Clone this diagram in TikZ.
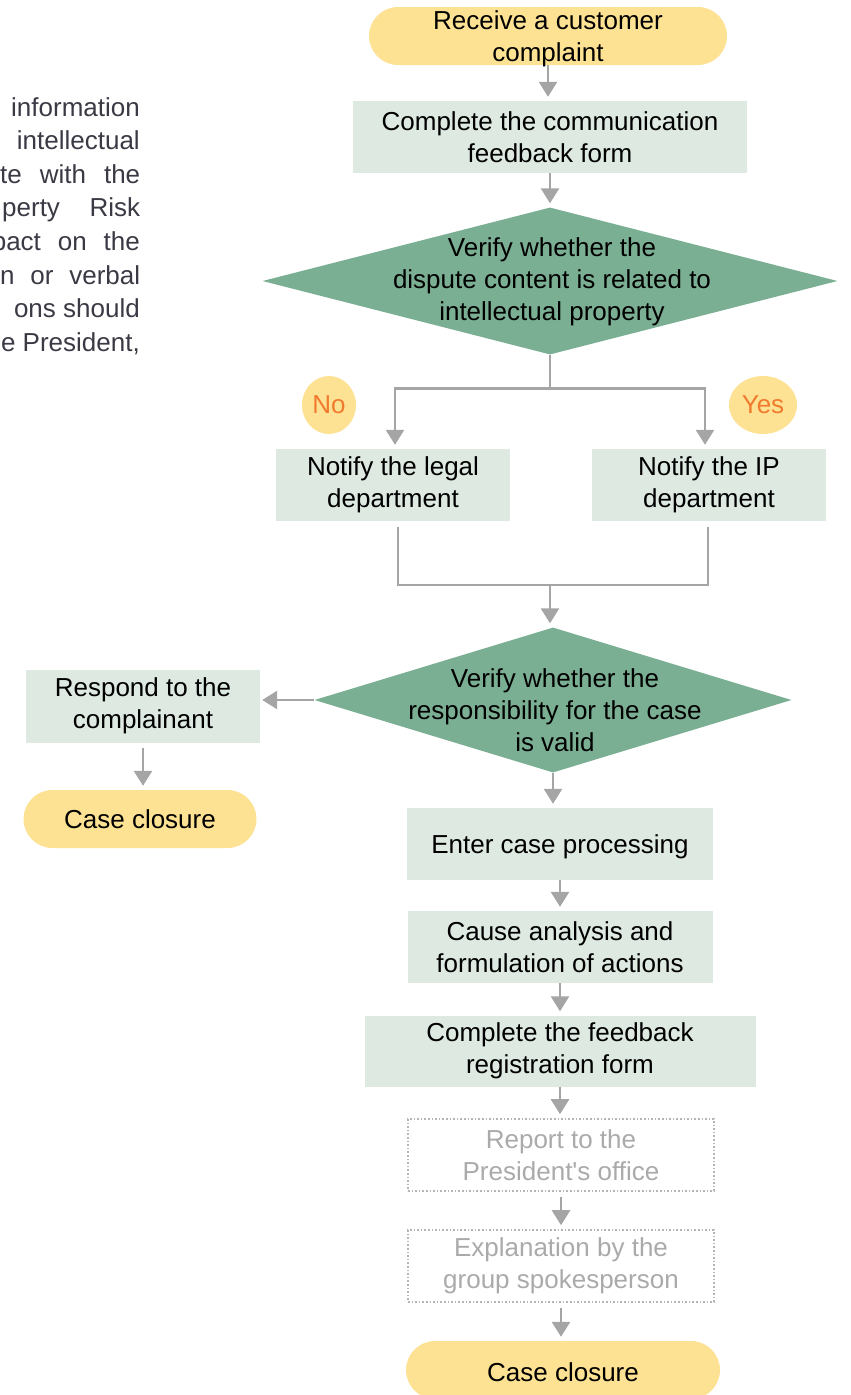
\documentclass[tikz,border=0pt]{standalone}
\usepackage{fontspec}
\setmainfont{Liberation Sans}
\usetikzlibrary{arrows.meta,shapes.geometric}
\definecolor{pillc}{HTML}{FEE293}
\definecolor{boxc}{HTML}{DDE9E1}
\definecolor{diac}{HTML}{7BAF93}
\definecolor{arrc}{HTML}{A5A5A5}
\definecolor{orngc}{HTML}{F07A2E}
\definecolor{ghostc}{HTML}{AAAAAA}
\definecolor{dotc}{HTML}{B5B5B5}
\definecolor{sidec}{HTML}{3A3A45}
\newcommand\straightq{\XeTeXglyph\XeTeXcharglyph"27 }
\begin{document}
\begin{tikzpicture}[x=1pt,y=-1pt,
  font=\fontsize{26}{32}\selectfont,
  pillnode/.style={rectangle, rounded corners=29pt, fill=pillc, minimum height=58pt, inner sep=0pt, align=center},
  boxnode/.style={rectangle, fill=boxc, inner sep=0pt, align=center, minimum height=72pt},
  ghostnode/.style={rectangle, draw=dotc, dotted, line width=1.6pt, text=ghostc, inner sep=0pt, align=center, minimum width=306pt, minimum height=72pt},
  dianode/.style={diamond, fill=diac, inner sep=0pt},
  dtext/.style={align=center, inner sep=0pt},
  flow/.style={draw=arrc, line width=2.6pt, -{Triangle[width=18pt,length=15pt]}, shorten >=4pt},
  link/.style={draw=arrc, line width=2.6pt},
  tagnode/.style={ellipse, fill=pillc, text=orngc, inner sep=0pt, minimum height=58pt},
  sidetext/.style={text=sidec, inner sep=0pt}
]
\useasboundingbox (0,0) rectangle (851,1395);

% side text (cut off at the left edge)
\node[sidetext, anchor=base east] (s1) at (140,116) {information};
\node[sidetext, anchor=base east] (s2) at (140,149) {intellectual};
\node[sidetext, anchor=base west] (s3) at (0,183) {\hbox to 140pt{te\hfill with\hfill the}};
\node[sidetext, anchor=base west] (s4) at (0,216) {\hbox to 140pt{\hskip2pt perty\hfill Risk}};
\node[sidetext, anchor=base east] (s5) at (140,250) {\hbox to 148pt{pact\hfill on\hfill the}};
\node[sidetext, anchor=base west] (s6) at (0,284) {\hbox to 140pt{n\hfill or\hfill verbal}};
\node[sidetext, anchor=base east] (s7) at (140,317) {ons should};
\node[sidetext, anchor=base east] (s8) at (140,351) {the President,};

% main flow
\node[pillnode, minimum width=358pt] (start) at (548,36) {};
\node[dtext] (startt) at (548,39) {Receive a customer\\complaint};
\node[boxnode, minimum width=394pt] (form) at (550,137) {Complete the communication\\feedback form};
\node[dianode, minimum width=575pt, minimum height=147pt] (d1) at (550,281) {};
\node[dtext] (d1t) at (552,282) {Verify whether the\\dispute content is related to\\intellectual property};

\node[boxnode, minimum width=234pt] (legal) at (393,485) {Notify the legal\\department};
\node[boxnode, minimum width=234pt] (ip) at (709,485) {Notify the IP\\department};
\node[tagnode, minimum width=54pt] (no) at (329,405) {No};
\node[tagnode, minimum width=68pt] (yes) at (763,405) {Yes};

\node[dianode, minimum width=477pt, minimum height=145pt] (d2) at (553,700) {};
\node[dtext] (d2t) at (555,710) {Verify whether the\\responsibility for the case\\is valid};

\node[boxnode, minimum width=234pt, minimum height=73pt] (resp) at (143,706) {Respond to the\\complainant};
\node[pillnode, minimum width=233pt] (close1) at (140,819) {Case closure};

\node[boxnode, minimum width=306pt] (enter) at (560,844) {};
\node[dtext] (entert) at (560,847) {Enter case processing};
\node[boxnode, minimum width=305pt] (cause) at (560,947) {Cause analysis and\\formulation of actions};
\node[boxnode, minimum width=391pt, minimum height=71pt] (reg) at (560,1051) {Complete the feedback\\registration form};
\node[ghostnode] (report) at (561,1155) {Report to the\\President\straightq s office};
\node[ghostnode] (expl) at (561,1266) {Explanation by the\\group spokesperson};
\node[pillnode, minimum width=314pt] (close2) at (563,1370) {};
\node[dtext] (close2t) at (563,1372) {Case closure};

% connectors
\draw[flow] (start.south) -- (start.south |- form.north);
\draw[flow] (form.south) -- (form.south |- d1.north);
\draw[link] (d1.south) -- ++(0,34) coordinate (split);
\draw[flow] (split) -| ([xshift=2pt]legal.north);
\draw[flow] (split) -| ([xshift=-4pt]ip.north);
\coordinate (merge) at (550,585);
\draw[link] ([xshift=5pt,yshift=-6pt]legal.south) |- (merge) -| ([xshift=-1pt,yshift=-6pt]ip.south);
\draw[flow] (merge) -- (merge |- d2.north);
\draw[flow, shorten >=2pt] (d2.west) -- (d2.west -| resp.east);
\draw[flow, shorten <=5pt] (resp.south) -- (resp.south |- close1.north);
\draw[flow] (d2.south) -- (d2.south |- enter.north);
\draw[flow] (enter.south) -- (enter.south |- cause.north);
\draw[flow] (cause.south) -- (cause.south |- reg.north);
\draw[flow] (reg.south) -- (reg.south |- report.north);
\draw[flow, shorten <=5pt] (report.south) -- (report.south |- expl.north);
\draw[flow, shorten <=5pt] (expl.south) -- (expl.south |- close2.north);
\end{tikzpicture}
\end{document}
